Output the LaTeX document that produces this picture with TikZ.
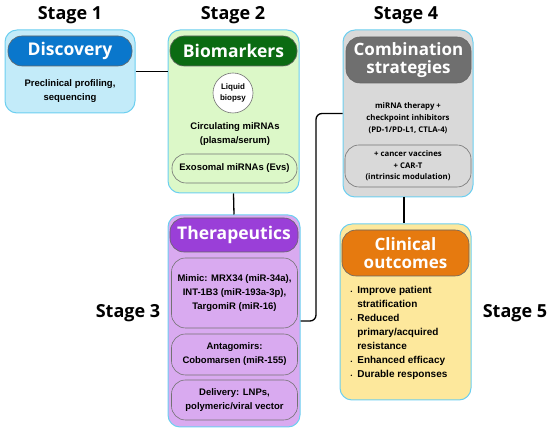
\documentclass[tikz,border=0pt]{standalone}
\usepackage{fontspec}
\setmainfont{Liberation Sans}
\newfontfamily\headfont{Open Sans}
\usetikzlibrary{positioning}

\definecolor{edgeblue}{HTML}{6CCFF0}
\definecolor{discfill}{HTML}{C3EBF9}
\definecolor{dischead}{HTML}{0A77CC}
\definecolor{biofill}{HTML}{DCF8C8}
\definecolor{biohead}{HTML}{0B6B12}
\definecolor{therfill}{HTML}{D9AAF0}
\definecolor{therhead}{HTML}{9A3FD8}
\definecolor{combfill}{HTML}{D9D9D9}
\definecolor{combhead}{HTML}{6F6F6F}
\definecolor{clinfill}{HTML}{FDE89C}
\definecolor{clinhead}{HTML}{E67A0F}

\begin{document}
\begin{tikzpicture}[
    x=1pt, y=-1pt,
    every node/.style={font=\bfseries\fontsize{9.5}{14}\selectfont},
    stagebox/.style={rectangle, draw=edgeblue, line width=1pt, rounded corners=12pt, inner sep=0pt},
    headpill/.style={rectangle, draw=black!60, line width=0.6pt, rounded corners=14pt, inner sep=0pt,
        text=white, align=center, font=\headfont\bfseries\fontsize{17.5}{17}\selectfont},
    subpill/.style={rectangle, draw=black!55, line width=0.6pt, rounded corners=14pt, inner sep=0pt, align=center},
    stagelabel/.style={font=\headfont\bfseries\fontsize{18}{18}\selectfont},
    link/.style={line width=1.3pt, black}
]
\useasboundingbox (0,0) rectangle (550,435);

% ============ STAGE LABELS ============
\node[stagelabel] (lab1) at (70,15) {Stage 1};
\node[stagelabel] (lab2) at (233,15) {Stage 2};
\node[stagelabel] (lab4) at (406,15) {Stage 4};
\node[stagelabel] (lab3) at (128,313) {Stage 3};
\node[stagelabel] (lab5) at (515,313) {Stage 5};

% ============ STAGE 1: DISCOVERY ============
\node[stagebox, fill=discfill, minimum width=130pt, minimum height=83pt] (disc) at (70,71.5) {};
\node[headpill, fill=dischead, minimum width=124pt, minimum height=30pt] (dischd) at (70,51) {Discovery};
\node[align=center] (disctxt) at (70,91) {Preclinical profiling,\\sequencing};

% ============ STAGE 2: BIOMARKERS ============
\node[stagebox, fill=biofill, minimum width=131pt, minimum height=163pt] (bio) at (233.5,111.5) {};
\node[headpill, fill=biohead, minimum width=127pt, minimum height=30pt] (biohd) at (233.5,51) {Biomarkers};
\node[circle, draw=black!55, line width=0.6pt, fill=white, minimum size=40pt, inner sep=0pt, align=center,
    font=\bfseries\fontsize{8}{11}\selectfont] (liquid) at (233,93) {Liquid\\biopsy};
\node[align=center] (circ) at (235,134) {Circulating miRNAs\\(plasma/serum)};
\node[subpill, minimum width=125pt, minimum height=29pt] (exo) at (234.5,168.5) {Exosomal miRNAs (Evs)};

% ============ STAGE 3: THERAPEUTICS ============
\node[stagebox, fill=therfill, minimum width=132pt, minimum height=212pt] (ther) at (234,321) {};
\node[headpill, fill=therhead, minimum width=128pt, minimum height=34pt] (therhd) at (234,235) {Therapeutics};
\node[subpill, minimum width=126pt, minimum height=70pt] (mimic) at (234.5,293)
    {Mimic: MRX34 (miR-34a),\\INT-1B3 (miR-193a-3p),\\TargomiR (miR-16)};
\node[subpill, minimum width=126pt, minimum height=41pt] (antag) at (234.5,354.5)
    {Antagomirs:\\Cobomarsen (miR-155)};
\node[subpill, minimum width=126pt, minimum height=40pt] (deliv) at (234.5,400)
    {Delivery: LNPs,\\polymeric/viral vector};

% ============ STAGE 4: COMBINATION ============
\node[stagebox, fill=combfill, minimum width=130pt, minimum height=167pt] (comb) at (408,113.5) {};
\node[headpill, fill=combhead, minimum width=125pt, minimum height=46pt,
    font=\headfont\bfseries\fontsize{17}{17.5}\selectfont] (combhd) at (408.5,60) {Combination\\strategies};
\node[align=center, font=\headfont\bfseries\fontsize{7.8}{12}\selectfont] (combtxt) at (408,118)
    {miRNA therapy +\\checkpoint inhibitors\\(PD-1/PD-L1, CTLA-4)};
\node[subpill, minimum width=126pt, minimum height=42pt, font=\headfont\bfseries\fontsize{7.8}{11.5}\selectfont]
    (vacc) at (408,166) {+ cancer vaccines\\+ CAR-T\\(intrinsic modulation)};

% ============ STAGE 5: CLINICAL OUTCOMES ============
\node[stagebox, fill=clinfill, minimum width=131pt, minimum height=176pt] (clin) at (405.5,312) {};
\node[headpill, fill=clinhead, minimum width=127pt, minimum height=46pt,
    font=\headfont\bfseries\fontsize{17}{17.5}\selectfont] (clinhd) at (405.5,253) {Clinical\\outcomes};
\node[align=left, font=\bfseries\fontsize{10}{14}\selectfont] (clintxt) at (399,333) {%
    \begin{tabular}{@{}l@{\hspace{5pt}}l@{}}
    {\tiny\textbullet} & Improve patient\\
     & stratification\\
    {\tiny\textbullet} & Reduced\\
     & primary/acquired\\
     & resistance\\
    {\tiny\textbullet} & Enhanced efficacy\\
    {\tiny\textbullet} & Durable responses
    \end{tabular}};

% ============ CONNECTORS ============
\coordinate (bend) at (316,220);
\coordinate (combdrop) at (404,197);
\draw[link] (disc.east) -- (disc.east -| bio.west);
\draw[link] (bio.south) -- (ther.north);
\draw[link, rounded corners=6pt] (ther.east) -| (bend) |- (comb.west);
\draw[link] (combdrop) -- (combdrop |- clin.north);

\end{tikzpicture}
\end{document}
